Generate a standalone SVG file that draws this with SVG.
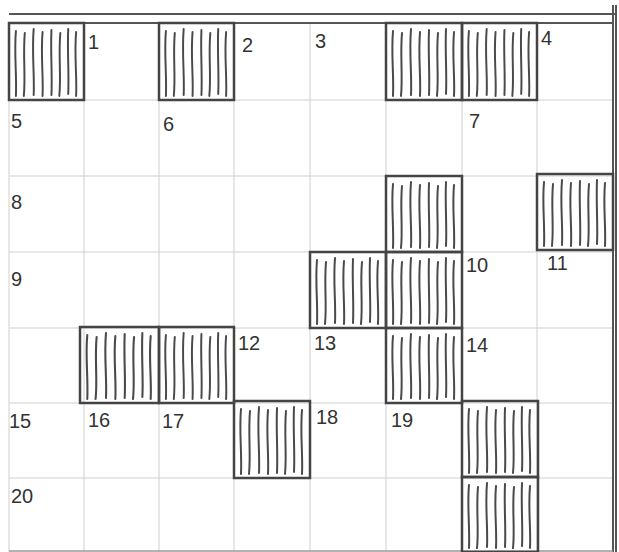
<svg xmlns="http://www.w3.org/2000/svg" xmlns:xlink="http://www.w3.org/1999/xlink" width="619" height="552" viewBox="0 0 619 552">
<style>
.grid{stroke:#cfcfcf;stroke-width:1;fill:none}
.frame{stroke:#555;stroke-width:2;fill:none}
.box{stroke:#444;stroke-width:2.5;fill:none}
.hl{stroke:#4a4a4a;stroke-width:2;fill:none;stroke-linecap:round}
.lbl{font-family:"Liberation Sans","DejaVu Sans",sans-serif;font-size:20px;fill:#333}
</style>
<defs>
<symbol id="h" viewBox="0 0 76 76" preserveAspectRatio="none">
<path class="hl" d="M7,8 C5,30 8,50 7,72"/>
<path class="hl" d="M16,10 C14,32 17,52 15,72"/>
<path class="hl" d="M25,6 C23,30 26,50 25,71"/>
<path class="hl" d="M34,9 C32,32 35,52 34,72"/>
<path class="hl" d="M43,7 C42,30 44,50 43,71"/>
<path class="hl" d="M52,10 C50,32 53,52 51,72"/>
<path class="hl" d="M60,6 C59,30 61,50 60,70"/>
<path class="hl" d="M68,9 C66,32 69,52 68,72"/>
</symbol>
</defs>
<rect width="619" height="552" fill="#fff"/>
<g id="grid">
<path class="grid" d="M9,23V552 M84,23V552 M159,23V552 M234,23V552 M310,23V552 M386,23V552 M462,23V552 M537,23V552 M9,100H613 M9,176H613 M9,252H613 M9,328H613 M9,403H613 M9,478H613"/>
</g>
<g id="frame">
<path class="frame" d="M9,14H616 M9,23H613 M613,5V552 M616,5V552"/>
<path d="M9,551H613" stroke="#999" stroke-width="1.5"/>
</g>
<g id="blocks">
<g id="b-r0c0"><use href="#h" x="9" y="23" width="75" height="77"/><rect class="box" x="9" y="23" width="75" height="77"/></g>
<g id="b-r0c2"><use href="#h" x="159" y="23" width="75" height="77"/><rect class="box" x="159" y="23" width="75" height="77"/></g>
<g id="b-r0c5"><use href="#h" x="386" y="23" width="76" height="77"/><rect class="box" x="386" y="23" width="76" height="77"/></g>
<g id="b-r0c6"><use href="#h" x="462" y="23" width="75" height="77"/><rect class="box" x="462" y="23" width="75" height="77"/></g>
<g id="b-r2c5"><use href="#h" x="386" y="176" width="76" height="76"/><rect class="box" x="386" y="176" width="76" height="76"/></g>
<g id="b-r2c7"><use href="#h" x="537" y="174" width="76" height="76"/><rect class="box" x="537" y="174" width="76" height="76"/></g>
<g id="b-r3c4"><use href="#h" x="310" y="252" width="76" height="76"/><rect class="box" x="310" y="252" width="76" height="76"/></g>
<g id="b-r3c5"><use href="#h" x="386" y="252" width="76" height="76"/><rect class="box" x="386" y="252" width="76" height="76"/></g>
<g id="b-r4c1"><use href="#h" x="80" y="327" width="79" height="76"/><rect class="box" x="80" y="327" width="79" height="76"/></g>
<g id="b-r4c2"><use href="#h" x="159" y="327" width="75" height="76"/><rect class="box" x="159" y="327" width="75" height="76"/></g>
<g id="b-r4c5"><use href="#h" x="386" y="328" width="76" height="75"/><rect class="box" x="386" y="328" width="76" height="75"/></g>
<g id="b-r5c3"><use href="#h" x="234" y="401" width="76" height="77"/><rect class="box" x="234" y="401" width="76" height="77"/></g>
<g id="b-r5c6"><use href="#h" x="462" y="401" width="76" height="76"/><rect class="box" x="462" y="401" width="76" height="76"/></g>
<g id="b-r6c6"><use href="#h" x="462" y="477" width="76" height="75"/><rect class="box" x="462" y="477" width="76" height="75"/></g>
</g>
<g id="labels">
<text class="lbl" x="88" y="49">1</text>
<text class="lbl" x="242" y="52">2</text>
<text class="lbl" x="315" y="48">3</text>
<text class="lbl" x="541" y="45">4</text>
<text class="lbl" x="11" y="128">5</text>
<text class="lbl" x="163" y="131">6</text>
<text class="lbl" x="469" y="128">7</text>
<text class="lbl" x="11" y="209">8</text>
<text class="lbl" x="11" y="286">9</text>
<text class="lbl" x="466" y="272">10</text>
<text class="lbl" x="547" y="270">11</text>
<text class="lbl" x="238" y="350">12</text>
<text class="lbl" x="314" y="350">13</text>
<text class="lbl" x="466" y="352">14</text>
<text class="lbl" x="9" y="428">15</text>
<text class="lbl" x="88" y="427">16</text>
<text class="lbl" x="162" y="428">17</text>
<text class="lbl" x="316" y="424">18</text>
<text class="lbl" x="391" y="427">19</text>
<text class="lbl" x="11" y="503">20</text>
</g>
</svg>
